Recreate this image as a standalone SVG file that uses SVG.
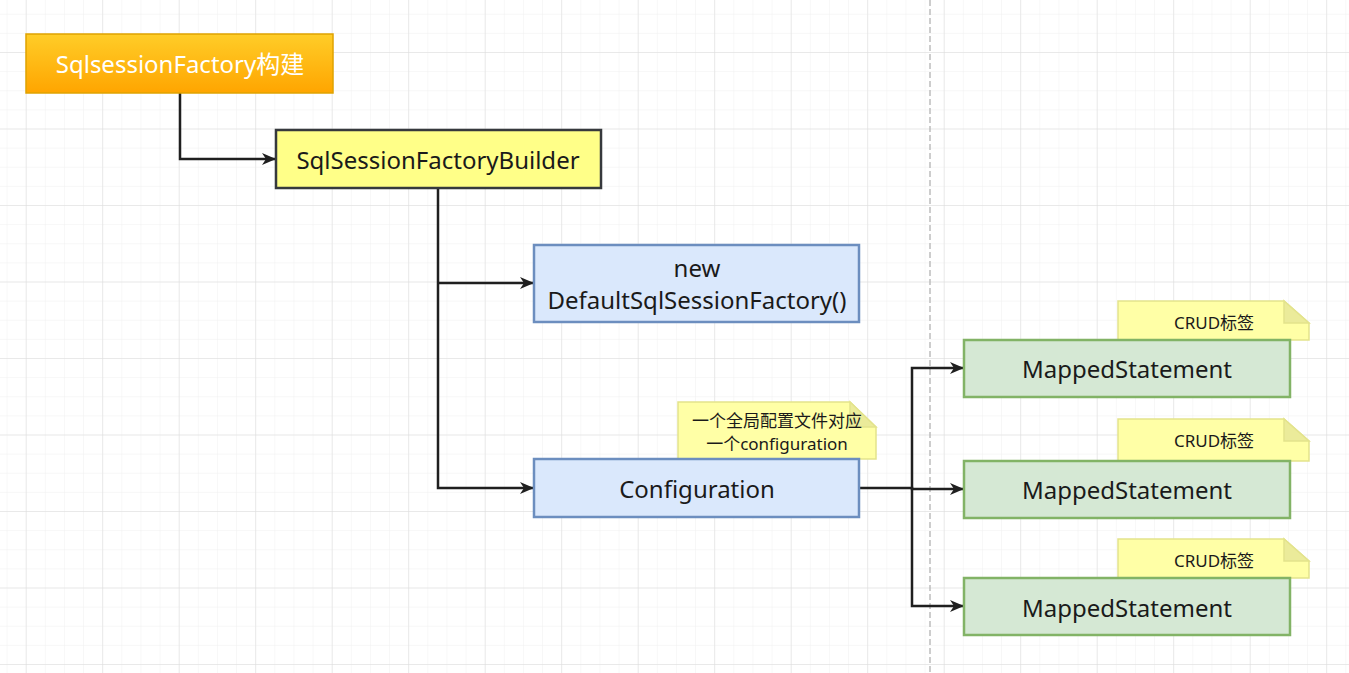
<svg xmlns="http://www.w3.org/2000/svg" width="1349" height="673" viewBox="0 0 1349 673">
<defs>
<pattern id="minor" x="25.7" y="52" width="19.125" height="19.125" patternUnits="userSpaceOnUse">
<path d="M0 0H19.125M0 0V19.125" fill="none" stroke="#f0f0f0" stroke-width="1"/>
</pattern>
<pattern id="major" x="25.7" y="52" width="76.5" height="76.5" patternUnits="userSpaceOnUse">
<path d="M0 0H76.5M0 0V76.5" fill="none" stroke="#dcdcdc" stroke-width="1"/>
</pattern>
<linearGradient id="og" x1="0" y1="0" x2="0" y2="1">
<stop offset="0" stop-color="#ffcd28"/>
<stop offset="1" stop-color="#ffa500"/>
</linearGradient>
<marker id="arr" viewBox="0 0 14 12" refX="13" refY="6" markerWidth="14" markerHeight="12" markerUnits="userSpaceOnUse" orient="auto">
<path d="M0 0L14 6L0 12L4 6Z" fill="#1f1f1f"/>
</marker>
<style>
.t{font-family:"Noto Sans","Open Sans","Noto Sans CJK SC",sans-serif;text-anchor:middle}
.big{font-size:24px;fill:#1a1a1a}
.sm{font-size:17px;fill:#1a1a1a}
.c{fill:none;stroke:#1f1f1f;stroke-width:2.5;marker-end:url(#arr)}
.blue{fill:#dae8fc;stroke:#6c8ebf;stroke-width:2.5}
.green{fill:#d5e8d4;stroke:#82b366;stroke-width:2.5}
.note{fill:#ffffa6;stroke:#e3e38c;stroke-width:1.5}
.fold{fill:#ebeb9a;stroke:#e3e38c;stroke-width:1.5}
</style>
</defs>
<rect width="1349" height="673" fill="#ffffff"/>
<rect width="1349" height="673" fill="url(#minor)"/>
<rect width="1349" height="673" fill="url(#major)"/>
<line x1="930" y1="0" x2="930" y2="673" stroke="#bdbdbd" stroke-width="1.5" stroke-dasharray="6 3"/>

<g id="connectors">
<path class="c" d="M180 93V159H275"/>
<path class="c" d="M438 188V488H533"/>
<path class="c" d="M438 283H533"/>
<path class="c" d="M860 488H912V489H963"/>
<path class="c" d="M912 489V368H963"/>
<path class="c" d="M912 489V606H963"/>
</g>

<g id="n-start">
<rect x="26" y="34" width="307" height="59" fill="url(#og)" stroke="#e0a300" stroke-width="1.5"/>
<text class="t" x="180" y="73" font-size="24" fill="#ffffff">SqlsessionFactory构建</text>
</g>

<g id="n-builder">
<rect x="276" y="130" width="325" height="58" fill="#ffff88" stroke="#36393d" stroke-width="2.5"/>
<text class="t big" x="438" y="169">SqlSessionFactoryBuilder</text>
</g>

<g id="n-default">
<rect class="blue" x="534" y="245" width="325" height="77"/>
<text class="t big" x="697" y="277">new</text>
<text class="t big" x="697" y="309">DefaultSqlSessionFactory()</text>
</g>

<g id="n-note-config">
<path class="note" d="M678 402H850L876 427V459H678Z"/>
<path class="fold" d="M850 402V427H876Z"/>
<text class="t sm" x="777" y="427">一个全局配置文件对应</text>
<text class="t sm" x="777" y="450">一个configuration</text>
</g>

<g id="n-config">
<rect class="blue" x="534" y="459" width="325" height="58"/>
<text class="t big" x="697" y="498">Configuration</text>
</g>

<g id="n-note1">
<path class="note" d="M1118 301H1284L1309 323V340H1118Z"/>
<path class="fold" d="M1284 301V323H1309Z"/>
<text class="t sm" x="1214" y="329">CRUD标签</text>
</g>
<g id="n-ms1">
<rect class="green" x="964" y="340" width="326" height="57"/>
<text class="t big" x="1127" y="378">MappedStatement</text>
</g>

<g id="n-note2">
<path class="note" d="M1118 419H1284L1309 441V461H1118Z"/>
<path class="fold" d="M1284 419V441H1309Z"/>
<text class="t sm" x="1214" y="447">CRUD标签</text>
</g>
<g id="n-ms2">
<rect class="green" x="964" y="461" width="326" height="57"/>
<text class="t big" x="1127" y="499">MappedStatement</text>
</g>

<g id="n-note3">
<path class="note" d="M1118 539H1284L1309 561V578H1118Z"/>
<path class="fold" d="M1284 539V561H1309Z"/>
<text class="t sm" x="1214" y="567">CRUD标签</text>
</g>
<g id="n-ms3">
<rect class="green" x="964" y="578" width="326" height="57"/>
<text class="t big" x="1127" y="617">MappedStatement</text>
</g>
</svg>
